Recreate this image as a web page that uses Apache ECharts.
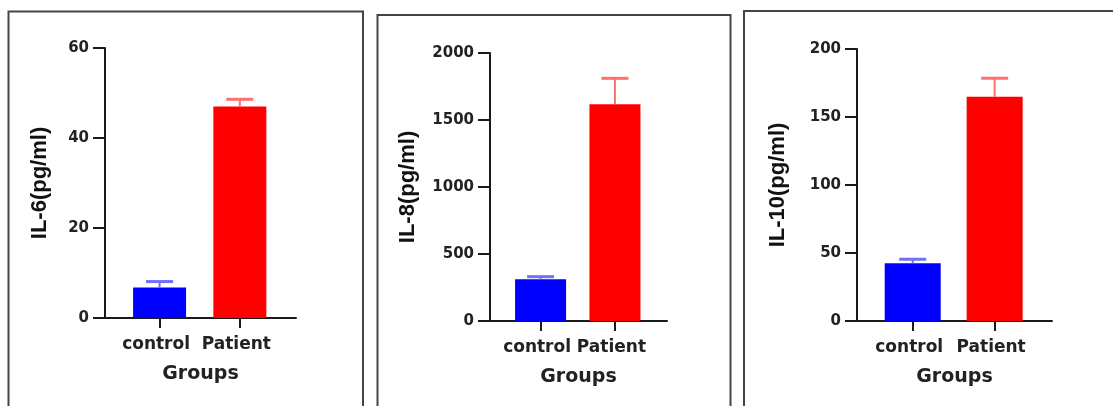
<!DOCTYPE html>
<html>
<head>
<meta charset="utf-8">
<script src="https://cdn.jsdelivr.net/npm/echarts@6/dist/echarts.min.js"></script>
<style>
html,body{margin:0;padding:0;background:#fff;}
#chart{width:1113px;height:406px;}
</style>
</head>
<body>
<div id="chart"></div>
<script>
// ---- data ----
var categories = ['control', 'Patient'];
var il6Mean = [6.8, 47.0];
var il6Upper = [8.1, 48.6];
var il8Mean = [311, 1617];
var il8Upper = [331, 1811];
var il10Mean = [42.4, 164.9];
var il10Upper = [45.4, 178.5];
var yNames = ['IL-6(pg/ml)', 'IL-8(pg/ml)', 'IL-10(pg/ml)'];
var yMax = [60, 2000, 200];
var yInterval = [20, 500, 50];
var xName = 'Groups';

var barColors = ['#0000ff', '#ff0000'];
var errColors = ['#7070ff', '#ff7070'];

var panels = [
  {mean: il6Mean, upper: il6Upper, grid: {left: 105, top: 48, width: 191, height: 270}, barWidth: 53, nameGap: 54},
  {mean: il8Mean, upper: il8Upper, grid: {left: 490, top: 53, width: 177, height: 268}, barWidth: 51, nameGap: 71},
  {mean: il10Mean, upper: il10Upper, grid: {left: 857, top: 49, width: 195, height: 272}, barWidth: 56, nameGap: 68}
];

var axisColor = '#1a1a1a';
var grids = [], xAxes = [], yAxes = [], series = [];

panels.forEach(function (p, i) {
  grids.push(p.grid);
  xAxes.push({
    type: 'value', gridIndex: i, min: -0.68, max: 1.7,
    name: xName, nameLocation: 'middle', nameGap: 47,
    nameTextStyle: {fontFamily: 'DejaVu Sans', fontWeight: 'bold', fontSize: 19, color: '#222'},
    splitLine: {show: false},
    axisLine: {show: true, onZero: false, lineStyle: {color: axisColor, width: 2}},
    axisTick: {show: true, customValues: [0, 1], length: 10, lineStyle: {color: axisColor, width: 2}},
    axisLabel: {
      customValues: [0, 1], margin: 18,
      fontFamily: 'DejaVu Sans', fontWeight: 'bold', fontSize: 17, color: '#222',
      padding: [0, 7, 0, 0],
      formatter: function (v) { return categories[Math.round(v)]; }
    }
  });
  yAxes.push({
    type: 'value', gridIndex: i, min: 0, max: yMax[i], interval: yInterval[i],
    name: yNames[i], nameLocation: 'middle', nameGap: p.nameGap, nameRotate: 90,
    nameTextStyle: {fontFamily: 'Liberation Sans', fontWeight: 'bold', fontSize: 22, color: '#111'},
    splitLine: {show: false},
    axisLine: {show: true, onZero: false, lineStyle: {color: axisColor, width: 2}},
    axisTick: {show: true, length: 12, lineStyle: {color: axisColor, width: 2}},
    axisLabel: {
      margin: 16, fontFamily: 'DejaVu Sans', fontWeight: 'bold', fontSize: 15, color: '#222',
      formatter: function (v) { return String(v); }
    }
  });
  series.push({
    type: 'bar', xAxisIndex: i, yAxisIndex: i, barWidth: p.barWidth,
    silent: true,
    data: p.mean.map(function (v, k) { return {value: [k, v], itemStyle: {color: barColors[k]}}; })
  });
  series.push({
    type: 'custom', xAxisIndex: i, yAxisIndex: i, silent: true, z: 5,
    data: p.mean.map(function (v, k) { return [k, v, p.upper[k]]; }),
    renderItem: function (params, api) {
      var x = api.value(0), m = api.value(1), h = api.value(2);
      var b = api.coord([x, m]);
      var t = api.coord([x, h]);
      var c = errColors[params.dataIndex];
      var half = 13.5;
      return {
        type: 'group',
        children: [
          {type: 'line', shape: {x1: b[0], y1: b[1], x2: t[0], y2: t[1]}, style: {stroke: c, lineWidth: 2}},
          {type: 'line', shape: {x1: t[0] - half, y1: t[1], x2: t[0] + half, y2: t[1]}, style: {stroke: c, lineWidth: 3}}
        ]
      };
    }
  });
});

var boxStyle = {fill: 'none', stroke: '#444', lineWidth: 2};
var option = {
  animation: false,
  backgroundColor: '#fff',
  grid: grids,
  xAxis: xAxes,
  yAxis: yAxes,
  series: series,
  graphic: [
    {type: 'rect', shape: {x: 8.5, y: 11.5, width: 354.5, height: 430}, style: boxStyle, silent: true},
    {type: 'rect', shape: {x: 377.5, y: 15, width: 353, height: 430}, style: boxStyle, silent: true},
    {type: 'rect', shape: {x: 744, y: 11, width: 420, height: 430}, style: boxStyle, silent: true}
  ]
};

var chart = echarts.init(document.getElementById('chart'), null, {renderer: 'canvas'});
chart.setOption(option);
</script>
</body>
</html>
